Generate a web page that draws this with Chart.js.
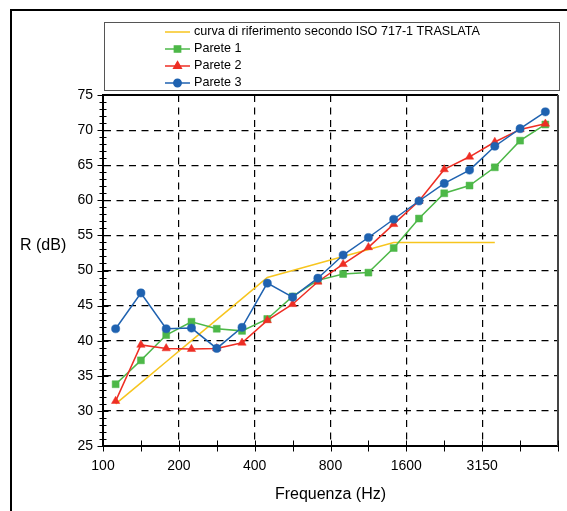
<!DOCTYPE html>
<html>
<head>
<meta charset="utf-8">
<script src="https://cdn.jsdelivr.net/npm/chart.js@4.4.0/dist/chart.umd.min.js"></script>
<style>
  html, body { margin: 0; padding: 0; background: #fff; }
</style>
</head>
<body>
<canvas id="myChart" width="567" height="511"></canvas>
<script>
// bande di terzo d'ottava (Hz)
const freqs = ['100', '125', '160', '200', '250', '315', '400', '500', '630',
  '800', '1000', '1250', '1600', '2000', '2500', '3150', '4000', '5000'];
// etichette asse x (una ogni 1.5 posizioni)
const xTickLabels = ['100', '200', '400', '800', '1600', '3150'];

const rifTraslata = [31, 34, 37, 40, 43, 46, 49, 50, 51, 52, 53, 54, 54, 54, 54, 54, null, null];
const parete1 = [33.8, 37.2, 40.8, 42.7, 41.7, 41.4, 43.1, 46.3, 48.6, 49.5, 49.7, 53.2, 57.4, 61.0, 62.1, 64.7, 68.5, 70.8];
const parete2 = [31.4, 39.4, 38.9, 38.8, 38.9, 39.7, 42.9, 45.2, 48.4, 50.9, 53.3, 56.6, 59.9, 64.4, 66.2, 68.3, 70.1, 70.9];
const parete3 = [41.7, 46.8, 41.7, 41.8, 38.9, 41.9, 48.2, 46.2, 48.9, 52.2, 54.7, 57.3, 59.9, 62.4, 64.3, 67.7, 70.2, 72.6];

const FONT = 'Arial, "Liberation Sans", sans-serif';

function toPoints(values) {
  return values.map((v, i) => ({ x: i + 1, y: v }));
}

// disegna cornice, legenda, titolo asse y e tacche
const decorPlugin = {
  id: 'decor',
  beforeDraw(chart) {
    const ctx = chart.ctx;
    ctx.save();
    ctx.fillStyle = '#fff';
    ctx.fillRect(0, 0, chart.width, chart.height);
    ctx.restore();
  },
  afterDraw(chart) {
    const ctx = chart.ctx;
    const area = chart.chartArea;
    const xs = chart.scales.x, ys = chart.scales.y;
    ctx.save();

    // bordo area grafico (sopra e destra)
    ctx.lineWidth = 2;
    ctx.strokeStyle = '#000';
    ctx.beginPath();
    ctx.moveTo(area.left, area.top);
    ctx.lineTo(area.right, area.top);
    ctx.stroke();
    ctx.strokeStyle = '#444';
    ctx.beginPath();
    ctx.moveTo(area.right, area.top);
    ctx.lineTo(area.right, area.bottom);
    ctx.stroke();

    // tacche y (ogni 1 dB)
    ctx.strokeStyle = '#000';
    ctx.lineWidth = 1;
    for (let v = ys.min; v <= ys.max; v++) {
      const py = Math.round(ys.getPixelForValue(v)) + 0.5;
      const len = v % 5 === 0 ? 5.5 : 3.5;
      ctx.beginPath();
      ctx.moveTo(area.left - len, py);
      ctx.lineTo(area.left + len, py);
      ctx.stroke();
    }
    // tacche x
    xs.ticks.forEach(t => {
      const px = Math.round(xs.getPixelForValue(t.value)) + 0.5;
      ctx.beginPath();
      ctx.moveTo(px, area.bottom - 5.5);
      ctx.lineTo(px, area.bottom + 5.5);
      ctx.stroke();
    });

    // titolo asse y (orizzontale)
    ctx.fillStyle = '#000';
    ctx.font = '16px ' + FONT;
    ctx.textAlign = 'left';
    ctx.textBaseline = 'middle';
    ctx.fillText('R (dB)', 20, 246);

    // legenda
    ctx.lineWidth = 1;
    ctx.strokeStyle = '#555';
    ctx.strokeRect(104.5, 22.5, 455, 68);
    ctx.font = '12.6px ' + FONT;
    chart.data.datasets.forEach((ds, i) => {
      const y = 32 + i * 17;
      ctx.strokeStyle = ds.borderColor;
      ctx.lineWidth = ds.borderWidth;
      ctx.beginPath();
      ctx.moveTo(165, y);
      ctx.lineTo(190, y);
      ctx.stroke();
      if (ds.pointRadius > 0) {
        ctx.fillStyle = ds.pointBackgroundColor;
        ctx.strokeStyle = ds.pointBorderColor;
        Chart.helpers.drawPoint(ctx, {
          pointStyle: ds.pointStyle, radius: ds.pointRadius * 0.9,
          borderWidth: 1, rotation: 0
        }, 177.5, y);
      }
      ctx.fillStyle = '#000';
      ctx.fillText(ds.label, 194, y);
    });

    // cornice esterna
    ctx.lineWidth = 2;
    ctx.strokeStyle = '#000';
    ctx.beginPath();
    ctx.moveTo(11, chart.height);
    ctx.lineTo(11, 10);
    ctx.lineTo(chart.width, 10);
    ctx.stroke();

    ctx.restore();
  }
};

const myChart = document.getElementById('myChart').getContext('2d');

const chart = new Chart(myChart, {
  type: 'line',
  data: {
    datasets: [
      {
        label: 'curva di riferimento secondo ISO 717-1 TRASLATA',
        data: toPoints(rifTraslata),
        borderColor: '#F7C51E',
        backgroundColor: '#F7C51E',
        borderWidth: 1.5,
        pointRadius: 0,
        order: 3
      },
      {
        label: 'Parete 1',
        data: toPoints(parete1),
        borderColor: '#4DB848',
        backgroundColor: '#4DB848',
        pointBackgroundColor: '#4DB848',
        pointBorderColor: '#4DB848',
        pointStyle: 'rect',
        pointRadius: 4.9,
        pointBorderWidth: 0.5,
        borderWidth: 1.5,
        order: 2
      },
      {
        label: 'Parete 2',
        data: toPoints(parete2),
        borderColor: '#EE2E24',
        backgroundColor: '#EE2E24',
        pointBackgroundColor: '#EE2E24',
        pointBorderColor: '#EE2E24',
        pointStyle: 'triangle',
        pointRadius: 4.8,
        pointBorderWidth: 0.5,
        borderWidth: 1.5,
        order: 1
      },
      {
        label: 'Parete 3',
        data: toPoints(parete3),
        borderColor: '#1F62B0',
        backgroundColor: '#1F62B0',
        pointBackgroundColor: '#1F62B0',
        pointBorderColor: '#1F62B0',
        pointStyle: 'circle',
        pointRadius: 4.1,
        pointBorderWidth: 0.5,
        borderWidth: 1.5,
        order: 0
      }
    ]
  },
  options: {
    responsive: false,
    animation: false,
    devicePixelRatio: 1,
    layout: { autoPadding: false, padding: { left: 0, top: 95, right: 9, bottom: 0 } },
    plugins: {
      legend: { display: false },
      tooltip: { enabled: false }
    },
    elements: { line: { tension: 0 } },
    scales: {
      x: {
        type: 'linear',
        min: 0.5,
        max: 18.5,
        afterBuildTicks(scale) {
          const t = [];
          for (let k = 0; k <= 12; k++) t.push({ value: 0.5 + 1.5 * k });
          scale.ticks = t;
        },
        afterFit(scale) {
          scale.height = 65;
          scale.paddingLeft = 0;
          scale.paddingRight = 0;
        },
        ticks: {
          autoSkip: false,
          maxRotation: 0,
          padding: 12,
          color: '#000',
          font: { family: FONT, size: 14 },
          callback(value, index) {
            return index % 2 === 0 && index / 2 < xTickLabels.length ? xTickLabels[index / 2] : '';
          }
        },
        grid: {
          drawTicks: false,
          lineWidth: 1.2,
          color(ctx) {
            const i = ctx.index;
            return (i % 2 === 0 && i > 0 && i < 12) ? '#000' : 'rgba(0,0,0,0)';
          }
        },
        border: { display: true, color: '#000', width: 2, dash: [7, 5.5] },
        title: {
          display: true,
          text: 'Frequenza (Hz)',
          color: '#000',
          font: { family: FONT, size: 16 },
          padding: { top: 0, bottom: 7 }
        }
      },
      y: {
        min: 25,
        max: 75,
        afterFit(scale) {
          scale.width = 103;
          scale.paddingTop = 0;
          scale.paddingBottom = 0;
        },
        ticks: {
          stepSize: 5,
          padding: 10,
          color: '#000',
          font: { family: FONT, size: 14 }
        },
        grid: {
          drawTicks: false,
          lineWidth: 1.2,
          color(ctx) {
            const v = ctx.tick ? ctx.tick.value : 0;
            return (v > 25 && v < 75) ? '#000' : 'rgba(0,0,0,0)';
          }
        },
        border: { display: true, color: '#000', width: 2, dash: [7, 5.5] }
      }
    }
  },
  plugins: [decorPlugin]
});
</script>
</body>
</html>
